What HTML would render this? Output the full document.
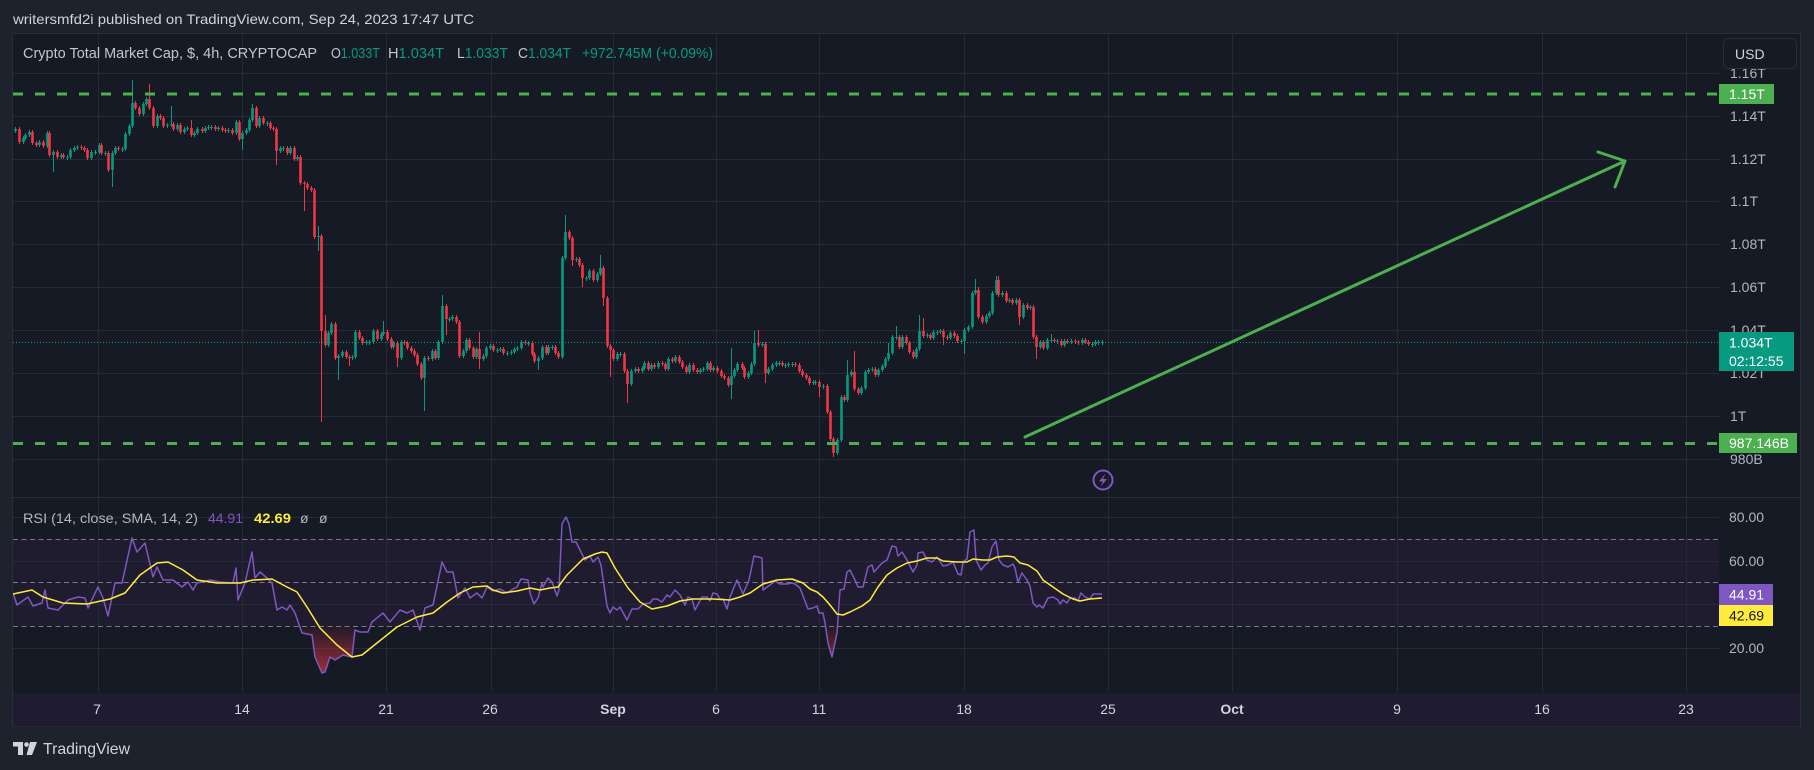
<!DOCTYPE html>
<html><head><meta charset="utf-8"><style>
html,body{margin:0;padding:0;background:#1e222d;width:1814px;height:770px;overflow:hidden}
svg{display:block;font-family:"Liberation Sans",sans-serif}
</style></head><body>
<svg width="1814" height="770" viewBox="0 0 1814 770" xmlns="http://www.w3.org/2000/svg">
<defs>
<clipPath id="mp"><rect x="13" y="34" width="1706" height="463"/></clipPath>
<clipPath id="rp"><rect x="13" y="498" width="1706" height="194"/></clipPath>
<linearGradient id="os" x1="0" y1="626" x2="0" y2="675" gradientUnits="userSpaceOnUse"><stop offset="0" stop-color="#f23645" stop-opacity="0.05"/><stop offset="1" stop-color="#f23645" stop-opacity="0.65"/></linearGradient>
</defs>
<rect width="1814" height="770" fill="#1e222d"/>
<text x="13" y="24" font-size="14" fill="#d1d4dc" textLength="461" lengthAdjust="spacingAndGlyphs">writersmfd2i published on TradingView.com, Sep 24, 2023 17:47 UTC</text>
<rect x="12.5" y="33.5" width="1788" height="692.5" fill="#161a25" stroke="#2a2e39"/>
<rect x="13" y="539" width="1706" height="87" fill="#1f1c30"/>
<rect x="13" y="693" width="1787" height="33" fill="#1f1c31"/>
<g stroke="#262a35" stroke-width="1">
<path d="M98.5 34V692M242.5 34V692M386.5 34V692M491.5 34V692M613.5 34V692M716.5 34V692M819.5 34V692M964.5 34V692M1108.5 34V692M1232.5 34V692M1397.5 34V692M1542.5 34V692M1686.5 34V692"/>
<path d="M13 73.5H1719M13 116.5H1719M13 159.5H1719M13 201.5H1719M13 244.5H1719M13 287.5H1719M13 330.5H1719M13 373.5H1719M13 416.5H1719M13 459.5H1719"/>
<path d="M13 517.5H1719M13 561.5H1719M13 604.5H1719M13 648.5H1719"/>
</g>
<line x1="13" y1="497.5" x2="1800" y2="497.5" stroke="#2a2e39"/>
<g stroke="#787b86" stroke-width="1" stroke-dasharray="5 3.5">
<path d="M13 539.5H1719M13 582.5H1719M13 626.5H1719"/>
</g>
<text x="23" y="58" font-size="15" fill="#c3c6ce" textLength="294" lengthAdjust="spacingAndGlyphs">Crypto Total Market Cap, $, 4h, CRYPTOCAP</text>
<text x="331" y="58" font-size="15" fill="#c3c6ce" textLength="49" lengthAdjust="spacingAndGlyphs">O<tspan fill="#089981">1.033T</tspan></text>
<text x="388" y="58" font-size="15" fill="#c3c6ce" textLength="56" lengthAdjust="spacingAndGlyphs">H<tspan fill="#089981">1.034T</tspan></text>
<text x="457" y="58" font-size="15" fill="#c3c6ce" textLength="51" lengthAdjust="spacingAndGlyphs">L<tspan fill="#089981">1.033T</tspan></text>
<text x="518" y="58" font-size="15" fill="#c3c6ce" textLength="53" lengthAdjust="spacingAndGlyphs">C<tspan fill="#089981">1.034T</tspan></text>
<text x="582" y="58" font-size="15" fill="#089981" textLength="131" lengthAdjust="spacingAndGlyphs">+972.745M (+0.09%)</text>
<g clip-path="url(#mp)" fill="none">
<path stroke="#089981" stroke-width="1" d="M15.5 127V133M23.5 136V144M25.5 133V140M29.5 130V137M39.5 140V147M47.5 131V148M53.5 150V172M61.5 153V159M67.5 155V160M70.5 148V159M74.5 146V152M77.5 145V150M91.5 150V160M95.5 150V155M99.5 143V154M105.5 151V156M112.5 151V187M115.5 146V155M122.5 147V152M125.5 132V151M129.5 124V136M132.5 80V128M143.5 102V116M146.5 97V106M157.5 114V128M167.5 123V128M171.5 106V127M177.5 123V131M184.5 127V134M187.5 126V131M194.5 131V137M197.5 127V135M205.5 126V133M208.5 125V130M211.5 125V130M218.5 126V131M228.5 128V133M236.5 120V135M242.5 131V150M246.5 128V135M249.5 118V132M252.5 104V122M259.5 116V128M267.5 121V126M280.5 146V153M283.5 146V151M290.5 146V155M297.5 155V161M318.5 226V251M328.5 331V347M331.5 322V335M338.5 354V380M342.5 350V358M352.5 355V360M355.5 330V359M366.5 340V345M369.5 340V345M373.5 329V344M381.5 332V341M383.5 321V336M393.5 341V349M401.5 340V360M424.5 356V411M432.5 349V361M438.5 340V360M442.5 295V344M449.5 317V322M452.5 315V321M463.5 349V358M466.5 338V353M476.5 347V359M483.5 354V361M486.5 346V358M490.5 344V350M497.5 348V353M500.5 347V352M507.5 351V356M511.5 350V355M514.5 347V354M517.5 346V351M521.5 340V350M528.5 341V346M538.5 356V370M542.5 345V360M548.5 345V355M552.5 345V350M562.5 256V359M565.5 215V260M576.5 257V262M586.5 276V281M589.5 269V280M597.5 272V282M600.5 255V276M617.5 352V361M620.5 352V357M631.5 369V386M635.5 367V373M642.5 366V373M644.5 361V370M651.5 363V371M658.5 361V369M668.5 357V371M675.5 355V363M689.5 363V374M700.5 368V374M703.5 367V372M707.5 361V371M713.5 366V372M731.5 348V399M734.5 368V378M737.5 362V372M748.5 371V379M751.5 362V375M754.5 331V366M762.5 342V347M768.5 367V375M772.5 363V371M776.5 361V367M779.5 361V366M785.5 363V368M788.5 362V367M792.5 362V367M813.5 380V385M815.5 380V385M823.5 384V389M837.5 438V455M841.5 395V442M847.5 360V402M851.5 370V377M861.5 386V395M865.5 370V390M868.5 368V374M872.5 367V372M878.5 368V377M882.5 364V372M885.5 357V368M888.5 343V361M892.5 335V355M896.5 326V340M902.5 335V349M916.5 347V359M919.5 315V351M927.5 333V338M933.5 330V340M937.5 330V335M940.5 329V334M950.5 331V340M961.5 339V344M964.5 328V354M968.5 325V332M972.5 291V329M975.5 279V295M986.5 314V324M989.5 311V318M992.5 291V315M996.5 276V295M1002.5 291V297M1009.5 298V303M1016.5 298V305M1023.5 303V319M1030.5 305V310M1040.5 340V349M1047.5 338V350M1051.5 334V343M1057.5 339V344M1064.5 339V347M1071.5 339V344M1082.5 338V345M1092.5 342V347M1095.5 340V346M1098.5 340V345M1102.5 340V345"/>
<path stroke="#089981" stroke-width="2.6" d="M15.5 129V131M23.5 138V142M25.5 135V138M29.5 132V135M39.5 142V145M47.5 133V146M53.5 152V155M61.5 155V157M67.5 157V158M70.5 150V157M74.5 148V150M77.5 147V148M91.5 152V158M95.5 152V153M99.5 145V152M105.5 153V154M112.5 153V170M115.5 148V153M122.5 149V150M125.5 134V149M129.5 126V134M132.5 103V126M143.5 104V114M146.5 99V104M157.5 116V126M167.5 125V126M171.5 124V125M177.5 125V129M184.5 129V132M187.5 128V129M194.5 133V135M197.5 129V133M205.5 128V131M208.5 127V128M211.5 127V128M218.5 128V129M228.5 130V131M236.5 122V133M242.5 133V139M246.5 130V133M249.5 120V130M252.5 108V120M259.5 118V126M267.5 123V124M280.5 148V151M283.5 148V149M290.5 148V153M297.5 157V159M318.5 236V237M328.5 333V345M331.5 324V333M338.5 356V358M342.5 352V356M352.5 357V358M355.5 332V357M366.5 342V343M369.5 342V343M373.5 331V342M381.5 334V339M383.5 332V334M393.5 343V347M401.5 342V358M424.5 358V378M432.5 351V359M438.5 342V358M442.5 306V342M449.5 319V320M452.5 317V319M463.5 351V356M466.5 340V351M476.5 349V357M483.5 356V359M486.5 348V356M490.5 346V348M497.5 350V351M500.5 349V350M507.5 353V354M511.5 352V353M514.5 349V352M517.5 348V349M521.5 342V348M528.5 343V344M538.5 358V361M542.5 347V358M548.5 347V353M552.5 347V348M562.5 258V357M565.5 232V258M576.5 259V260M586.5 278V279M589.5 271V278M597.5 274V280M600.5 268V274M617.5 354V359M620.5 354V355M631.5 371V384M635.5 369V371M642.5 368V371M644.5 363V368M651.5 365V369M658.5 363V367M668.5 359V369M675.5 357V361M689.5 365V372M700.5 370V372M703.5 369V370M707.5 363V369M713.5 368V370M731.5 376V385M734.5 370V376M737.5 364V370M748.5 373V377M751.5 364V373M754.5 343V364M762.5 344V345M768.5 369V373M772.5 365V369M776.5 363V365M779.5 363V364M785.5 365V366M788.5 364V365M792.5 364V365M813.5 382V383M815.5 382V383M823.5 386V387M837.5 440V453M841.5 397V440M847.5 375V400M851.5 372V375M861.5 388V393M865.5 372V388M868.5 370V372M872.5 369V370M878.5 370V375M882.5 366V370M885.5 359V366M888.5 353V359M892.5 337V353M896.5 337V338M902.5 337V347M916.5 349V357M919.5 331V349M927.5 335V336M933.5 332V338M937.5 332V333M940.5 331V332M950.5 333V338M961.5 341V342M964.5 330V341M968.5 327V330M972.5 293V327M975.5 290V293M986.5 316V322M989.5 313V316M992.5 293V313M996.5 280V293M1002.5 293V295M1009.5 300V301M1016.5 300V303M1023.5 305V317M1030.5 307V308M1040.5 342V347M1047.5 340V348M1051.5 340V341M1057.5 341V342M1064.5 341V345M1071.5 341V342M1082.5 340V343M1092.5 344V345M1095.5 342V344M1098.5 342V343M1102.5 342V343"/>
<path stroke="#f23645" stroke-width="1" d="M19.5 127V144M32.5 130V145M36.5 141V147M43.5 140V148M49.5 131V157M57.5 150V159M63.5 153V159M81.5 145V150M84.5 146V152M87.5 148V160M101.5 143V155M108.5 151V172M118.5 146V151M135.5 101V110M139.5 106V116M149.5 84V110M153.5 106V128M160.5 114V120M163.5 116V128M173.5 122V131M180.5 123V134M191.5 120V137M202.5 127V133M215.5 125V131M222.5 126V132M225.5 128V133M232.5 128V135M239.5 120V141M256.5 106V128M263.5 116V125M270.5 121V130M273.5 126V131M276.5 127V165M287.5 146V155M294.5 146V161M300.5 155V185M304.5 181V211M307.5 182V190M311.5 186V192M314.5 188V239M321.5 234V422M325.5 315V347M335.5 322V360M346.5 350V359M349.5 355V366M359.5 330V340M362.5 336V345M377.5 329V341M387.5 330V341M391.5 337V349M397.5 341V367M404.5 340V345M407.5 341V350M411.5 346V353M414.5 349V357M417.5 353V366M421.5 362V380M428.5 356V361M435.5 349V360M446.5 304V335M456.5 315V324M459.5 320V358M469.5 338V350M473.5 346V359M479.5 332V369M493.5 344V352M503.5 347V355M525.5 340V345M532.5 341V356M534.5 352V363M546.5 345V355M555.5 345V355M558.5 351V359M569.5 230V240M572.5 236V266M579.5 257V267M582.5 263V287M593.5 269V282M603.5 266V306M607.5 296V348M610.5 344V377M613.5 348V361M624.5 352V373M627.5 369V403M638.5 367V373M648.5 361V371M654.5 363V369M662.5 361V366M665.5 362V371M672.5 357V363M679.5 355V364M682.5 360V369M686.5 365V374M693.5 363V372M697.5 368V374M710.5 361V372M717.5 366V373M721.5 369V378M724.5 374V380M728.5 376V387M742.5 362V370M744.5 366V379M758.5 330V347M765.5 342V383M782.5 361V367M795.5 362V367M799.5 363V373M802.5 369V377M806.5 373V380M809.5 376V385M819.5 380V397M827.5 384V414M830.5 410V441M833.5 437V457M844.5 395V402M854.5 351V391M858.5 387V395M875.5 367V377M899.5 335V349M906.5 335V345M909.5 341V354M913.5 350V359M923.5 318V338M930.5 333V340M943.5 329V345M947.5 335V340M954.5 331V338M957.5 334V343M978.5 287V319M982.5 315V324M998.5 276V297M1006.5 291V303M1012.5 298V305M1019.5 298V325M1027.5 303V310M1033.5 305V339M1036.5 335V359M1043.5 340V350M1054.5 338V343M1061.5 339V347M1067.5 339V344M1075.5 339V344M1078.5 340V345M1085.5 338V344M1088.5 340V346"/>
<path stroke="#f23645" stroke-width="2.6" d="M19.5 129V142M32.5 132V143M36.5 143V145M43.5 142V146M49.5 133V155M57.5 152V157M63.5 155V157M81.5 147V148M84.5 148V150M87.5 150V158M101.5 145V153M108.5 153V170M118.5 148V149M135.5 103V108M139.5 108V114M149.5 99V108M153.5 108V126M160.5 116V118M163.5 118V126M173.5 124V129M180.5 125V132M191.5 128V135M202.5 129V131M215.5 127V129M222.5 128V130M225.5 130V131M232.5 130V133M239.5 122V139M256.5 108V126M263.5 118V123M270.5 123V128M273.5 128V129M276.5 129V151M287.5 148V153M294.5 148V159M300.5 157V183M304.5 183V184M307.5 184V188M311.5 188V190M314.5 190V237M321.5 236V331M325.5 331V345M335.5 324V358M346.5 352V357M349.5 357V358M359.5 332V338M362.5 338V343M377.5 331V339M387.5 332V339M391.5 339V347M397.5 343V358M404.5 342V343M407.5 343V348M411.5 348V351M414.5 351V355M417.5 355V364M421.5 364V378M428.5 358V359M435.5 351V358M446.5 306V319M456.5 317V322M459.5 322V356M469.5 340V348M473.5 348V357M479.5 349V359M493.5 346V350M503.5 349V353M525.5 342V343M532.5 343V354M534.5 354V361M546.5 347V353M555.5 347V353M558.5 353V357M569.5 232V238M572.5 238V260M579.5 259V265M582.5 265V278M593.5 271V280M603.5 268V298M607.5 298V346M610.5 346V350M613.5 350V359M624.5 354V371M627.5 371V384M638.5 369V371M648.5 363V369M654.5 365V367M662.5 363V364M665.5 364V369M672.5 359V361M679.5 357V362M682.5 362V367M686.5 367V372M693.5 365V370M697.5 370V372M710.5 363V370M717.5 368V371M721.5 371V376M724.5 376V378M728.5 378V385M742.5 364V368M744.5 368V377M758.5 343V345M765.5 344V373M782.5 363V365M795.5 364V365M799.5 365V371M802.5 371V375M806.5 375V378M809.5 378V383M819.5 382V387M827.5 386V412M830.5 412V439M833.5 439V453M844.5 397V400M854.5 372V389M858.5 389V393M875.5 369V375M899.5 337V347M906.5 337V343M909.5 343V352M913.5 352V357M923.5 331V336M930.5 335V338M943.5 331V337M947.5 337V338M954.5 333V336M957.5 336V341M978.5 290V317M982.5 317V322M998.5 280V295M1006.5 293V301M1012.5 300V303M1019.5 300V317M1027.5 305V308M1033.5 307V337M1036.5 337V347M1043.5 342V348M1054.5 340V341M1061.5 341V345M1067.5 341V342M1075.5 341V342M1078.5 342V343M1085.5 340V342M1088.5 342V344"/>
</g>
<g clip-path="url(#mp)">
<line x1="13" y1="342.5" x2="1719" y2="342.5" stroke="#089981" stroke-width="1" stroke-dasharray="1 2"/>
<line x1="13" y1="94" x2="1719" y2="94" stroke="#4caf50" stroke-width="3" stroke-dasharray="10 12"/>
<line x1="13" y1="443.5" x2="1719" y2="443.5" stroke="#4caf50" stroke-width="3" stroke-dasharray="10 12"/>
<line x1="1025" y1="437" x2="1625" y2="161" stroke="#4caf50" stroke-width="3" stroke-linecap="round"/>
<polyline points="1598,152 1625,161 1615,187" fill="none" stroke="#4caf50" stroke-width="3" stroke-linecap="round" stroke-linejoin="round"/>
</g>
<circle cx="1103" cy="480" r="9.5" fill="none" stroke="#7e57c2" stroke-width="2"/>
<path d="M1105.5 473.5 L1099 481.5 H1103 L1100.5 487 L1107 479 H1103 Z" fill="#7e57c2"/>
<g clip-path="url(#rp)">
<polygon fill="url(#os)" points="300,626 302,633 312,635 315,657 322,673 325,672 330,657 335,660 343,655 352,657 355,630 356,626"/>
<polygon fill="url(#os)" points="825,626 828,643 832,657 837,633 837.6,626"/>
<polyline fill="none" stroke="#7e57c2" stroke-width="1.5" stroke-linejoin="round" points="13,593 17,605 28,597 33,606 42,603 45,590 48,608 58,610 68,600 78,597 85,598 88,608 98,587 103,598 108,616 115,583 122,583 132,538 137,552 145,543 153,577 157,567 163,580 173,580 182,587 188,582 193,590 197,583 210,580 220,582 233,583 236,568 238,600 245,583 252,552 255,578 260,572 267,578 272,583 277,610 282,607 287,610 290,605 295,613 302,633 312,635 315,657 322,673 325,672 330,657 335,660 343,655 352,657 355,630 360,632 368,632 372,622 383,613 390,622 400,610 407,613 413,610 420,630 425,608 433,605 442,562 447,572 453,572 458,598 465,588 470,598 477,593 482,598 487,587 493,591 500,589 507,593 513,589 517,587 521,579 528,580 530,593 534,604 538,598 542,583 543,587 548,578 552,582 557,596 559,590 562,524 566,517 569,524 572,542 576,542 580,550 585,560 590,556 593,562 598,557 601,565 607,606 610,613 613,607 617,610 620,607 627,620 632,609 638,609 643,604 650,603 653,599 657,599 662,602 667,595 670,597 675,590 680,595 685,605 688,597 692,599 695,610 702,597 707,597 710,601 713,593 717,594 720,599 723,599 727,609 730,597 737,580 743,594 749,580 754,556 762,558 763,590 770,585 775,581 780,584 787,584 792,583 795,584 800,588 808,609 813,608 817,606 819,613 823,613 825,623 828,643 832,657 837,633 840,590 844,589 847,572 850,570 855,580 858,587 863,587 868,567 872,565 874,572 882,563 887,560 892,546 896,547 898,556 902,552 907,560 913,572 917,565 918,553 923,552 927,560 932,562 937,557 943,566 948,565 953,562 958,574 961,575 963,562 967,559 970,532 974,530 976,560 981,570 985,565 988,563 992,547 996,541 999,560 1003,565 1008,567 1013,564 1015,568 1018,582 1022,573 1027,580 1030,586 1033,603 1037,607 1039,605 1043,608 1048,598 1053,597 1058,600 1060,604 1063,600 1067,603 1070,598 1075,598 1078,601 1081,593 1085,597 1090,599 1093,594 1102,594"/>
<polyline fill="none" stroke="#ffeb3b" stroke-width="1.5" stroke-linejoin="round" points="13,594 32,590 43,597 63,603 87,604 110,599 125,593 140,575 157,563 168,562 183,570 197,580 217,583 240,583 253,580 272,579 287,587 297,592 307,607 320,628 337,645 352,657 362,655 377,643 397,627 417,617 433,613 447,602 460,593 473,587 487,586 493,590 503,593 517,591 530,588 540,590 550,588 558,587 567,575 583,559 595,554 602,552 607,553 615,568 628,588 640,602 652,609 667,606 680,601 693,599 713,599 730,600 740,597 750,593 763,584 777,580 792,579 803,583 810,589 817,592 823,597 830,605 837,614 843,615 850,612 862,606 870,600 878,587 887,575 897,568 907,563 917,561 927,558 937,558 943,561 957,562 967,562 973,559 983,560 990,560 997,557 1007,556 1014,557 1020,563 1028,565 1037,571 1043,580 1053,587 1063,594 1073,599 1080,601 1090,599 1102,598"/>
</g>
<text x="23" y="523" font-size="14" fill="#b2b5be" textLength="175" lengthAdjust="spacingAndGlyphs">RSI (14, close, SMA, 14, 2)</text>
<text x="208" y="523" font-size="14" fill="#7e57c2" textLength="35" lengthAdjust="spacingAndGlyphs">44.91</text>
<text x="254" y="523" font-size="14" font-weight="bold" fill="#ffeb3b" textLength="37" lengthAdjust="spacingAndGlyphs">42.69</text>
<text x="300" y="523" font-size="14" fill="#b2b5be">ø</text>
<text x="319" y="523" font-size="14" fill="#b2b5be">ø</text>
<g font-size="14" fill="#b2b5be">
<text x="1730" y="78">1.16T</text>
<text x="1730" y="121">1.14T</text>
<text x="1730" y="164">1.12T</text>
<text x="1730" y="206">1.1T</text>
<text x="1730" y="249">1.08T</text>
<text x="1730" y="292">1.06T</text>
<text x="1730" y="335">1.04T</text>
<text x="1730" y="378">1.02T</text>
<text x="1730" y="421">1T</text>
<text x="1730" y="464">980B</text>
<text x="1729" y="522">80.00</text>
<text x="1729" y="566">60.00</text>
<text x="1729" y="653">20.00</text>
</g>
<rect x="1723.5" y="38.5" width="73" height="30" rx="5" fill="#161a25" stroke="#2a2e39"/>
<text x="1735" y="59" font-size="14" fill="#d1d4dc">USD</text>
<rect x="1719" y="84" width="55" height="20" fill="#4caf50"/>
<text x="1729" y="99" font-size="14" fill="#ffffff">1.15T</text>
<rect x="1719" y="332" width="75" height="39" fill="#089981"/>
<text x="1729" y="347.5" font-size="14" fill="#ffffff">1.034T</text>
<text x="1729" y="366" font-size="14" fill="#ffffff">02:12:55</text>
<rect x="1719" y="433" width="78" height="20" fill="#4caf50"/>
<text x="1729" y="448" font-size="14" fill="#ffffff">987.146B</text>
<rect x="1719" y="584" width="54" height="21" fill="#7e57c2"/>
<text x="1729" y="599.5" font-size="14" fill="#ffffff">44.91</text>
<rect x="1719" y="605" width="54" height="21" fill="#ffeb3b"/>
<text x="1729" y="620.5" font-size="14" fill="#131722">42.69</text>
<g font-size="14" fill="#d1d4dc" text-anchor="middle">
<text x="97" y="714">7</text>
<text x="242" y="714">14</text>
<text x="386" y="714">21</text>
<text x="490" y="714">26</text>
<text x="613" y="714" font-weight="bold">Sep</text>
<text x="716" y="714">6</text>
<text x="819" y="714">11</text>
<text x="964" y="714">18</text>
<text x="1108" y="714">25</text>
<text x="1232" y="714" font-weight="bold">Oct</text>
<text x="1397" y="714">9</text>
<text x="1542" y="714">16</text>
<text x="1686" y="714">23</text>
</g>
<path d="M13 742H23V755H18V746.5H13Z" fill="#d1d4dc"/>
<circle cx="26.5" cy="744.5" r="2.3" fill="#d1d4dc"/>
<path d="M30 742H37L32 755H26.5Z" fill="#d1d4dc"/>
<text x="43" y="754" font-size="16" fill="#d1d4dc" textLength="87" lengthAdjust="spacingAndGlyphs">TradingView</text>
</svg>
</body></html>
